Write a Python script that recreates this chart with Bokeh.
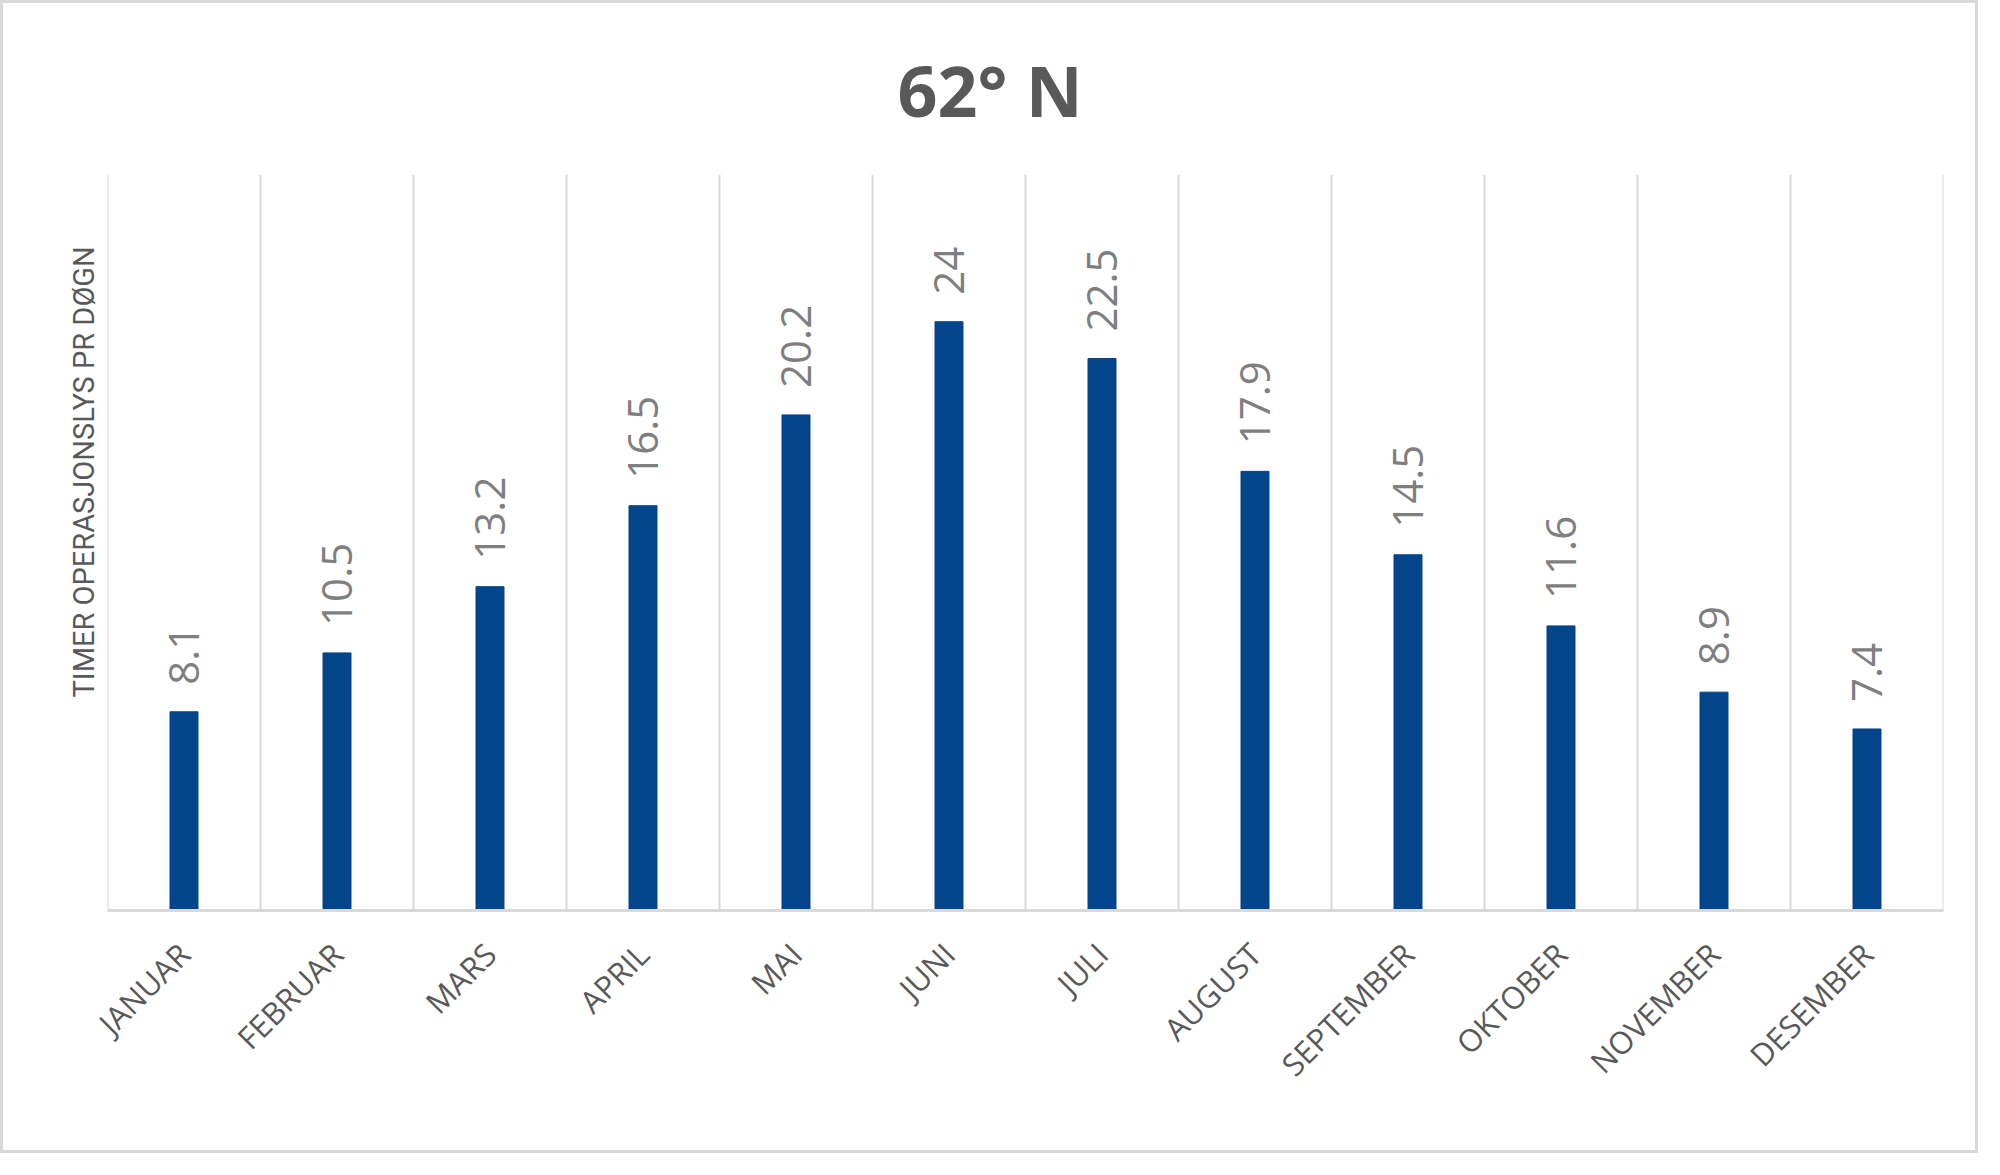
"""Operating light hours per day at 62 degrees north, as a Bokeh bar chart."""

from math import pi

from bokeh.core.properties import value
from bokeh.embed import file_html
from bokeh.models import Title
from bokeh.plotting import figure
from bokeh.resources import INLINE

months = ["JANUAR", "FEBRUAR", "MARS", "APRIL", "MAI", "JUNI",
          "JULI", "AUGUST", "SEPTEMBER", "OKTOBER", "NOVEMBER", "DESEMBER"]
hours = [8.1, 10.5, 13.2, 16.5, 20.2, 24, 22.5, 17.9, 14.5, 11.6, 8.9, 7.4]
hour_labels = [f"{h:g}" for h in hours]
y_max = 30

title_text = "62° N"
y_title = "TIMER OPERASJONSLYS PR DØGN"

BAR_COLOR = "#03458B"
GRID_COLOR = "#d9d9d9"
TEXT_DARK = "#595959"
TEXT_LIGHT = "#7f7f7f"

p = figure(
    x_range=months,
    y_range=(0, y_max),
    width=1978,
    height=1153,
    output_backend="svg",
    toolbar_location=None,
    min_border_left=104,
    min_border_right=38,
    min_border_top=171,
    min_border_bottom=246,
    outline_line_color=None,
    background_fill_color="white",
    border_fill_color="white",
)
p.styles = {"border": f"3px solid {GRID_COLOR}"}

# chart title sits centred on the whole chart, not the plot area
p.title = Title(
    text=title_text,
    align="left",
    vertical_align="top",
    offset=790,
    standoff=70,
    text_font="Open Sans",
    text_font_size="70px",
    text_font_style="bold",
    text_color=TEXT_DARK,
)

# y title is placed a bit above the middle, as in the original
p.add_layout(Title(
    text=y_title,
    align="left",
    offset=213,
    standoff=13,
    text_font="Roboto",
    text_font_size="29px",
    text_font_style="normal",
    text_color=TEXT_DARK,
), "left")

# vertical separators between the months
bounds = list(range(len(months) + 1))
p.segment(x0=bounds, y0=0, x1=bounds, y1=y_max, line_color=GRID_COLOR, line_width=2)
p.xgrid.visible = False
p.ygrid.visible = False

p.vbar(x=months, top=hours, width=0.183, color=BAR_COLOR)

p.text(
    x=months,
    y=hours,
    text=hour_labels,
    angle=pi / 2,
    y_offset=-27,
    text_align="left",
    text_baseline="middle",
    text_font=value("Open Sans"),
    text_font_size="42px",
    text_color=TEXT_LIGHT,
)

p.yaxis.visible = False

xa = p.xaxis[0]
xa.axis_line_color = GRID_COLOR
xa.axis_line_width = 3
xa.major_tick_line_color = None
xa.minor_tick_line_color = None
xa.major_label_orientation = pi / 4
xa.major_label_standoff = 32
xa.major_label_text_font = "Open Sans"
xa.major_label_text_font_size = "31px"
xa.major_label_text_color = TEXT_DARK

open("out.html", "w").write(file_html(p, INLINE))
